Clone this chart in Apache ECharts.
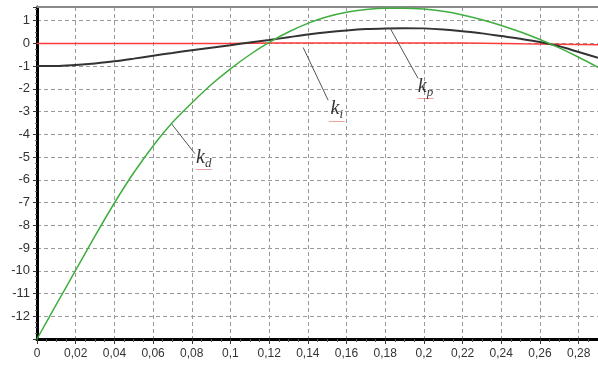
<!DOCTYPE html>
<html>
<head>
<meta charset="utf-8">
<script src="https://cdn.jsdelivr.net/npm/echarts@6/dist/echarts.min.js"></script>
<style>html,body{margin:0;padding:0;background:#fff}#c{width:598px;height:365px}</style>
</head>
<body>
<div id="c"></div>
<script>
var xs = [0,0.01,0.02,0.03,0.04,0.05,0.06,0.07,0.08,0.09,0.10,0.11,0.12,0.13,0.14,0.15,0.16,0.17,0.18,0.19,0.20,0.21,0.22,0.23,0.24,0.25,0.26,0.27,0.28,0.29];
var kd = [-13,-11.48,-9.97,-8.47,-7.02,-5.69,-4.51,-3.48,-2.62,-1.82,-1.12,-0.5,0.04,0.5,0.88,1.17,1.37,1.49,1.55,1.55,1.51,1.41,1.25,1.04,0.79,0.5,0.17,-0.2,-0.61,-1.05];
var kp = [-1.0,-1.0,-0.95,-0.88,-0.79,-0.67,-0.54,-0.42,-0.3,-0.19,-0.08,0.04,0.15,0.27,0.39,0.49,0.57,0.63,0.66,0.67,0.66,0.61,0.53,0.44,0.32,0.2,0.06,-0.13,-0.38,-0.63];
var ki = [0,0,0,0,0,0,0,0,0,0,0,0.01,0.02,0.02,0.02,0.02,0.02,0.02,0.02,0.02,0.02,0.02,0.02,0.01,0,-0.02,-0.03,-0.04,-0.05,-0.06];
var xTicks = ['0','0,02','0,04','0,06','0,08','0,1','0,12','0,14','0,16','0,18','0,2','0,22','0,24','0,26','0,28'];
// annotation labels: name, subscript, pointer start [x,y], pointer end [x,y], label position [x,y]
var annNames = ['k','k','k'];
var annSubs = ['d','i','p'];
var annFrom = [[0.0695,-3.53],[0.1376,-0.18],[0.1826,0.66]];
var annTo = [[0.0816,-4.85],[0.1505,-2.5],[0.197,-1.54]];
var annAt = [[0.0862,-5.1],[0.155,-2.95],[0.2008,-1.98]];

function pairs(a){ return xs.map(function(x,i){return [x,a[i]];}); }
var chart = echarts.init(document.getElementById('c'));
var fmtX = function(v){
  var k = Math.round(v/0.02);
  if (Math.abs(v/0.02 - k) > 1e-6) return '';
  return xTicks[k] !== undefined ? xTicks[k] : '';
};
var fmtY = function(v){
  if (Math.abs(v - Math.round(v)) > 1e-6 || v <= -13 || v > 1.01) return '';
  return String(Math.round(v));
};
var markLines = annFrom.map(function(f,i){ return [{coord:f},{coord:annTo[i]}]; });
chart.setOption({
  animation:false,
  backgroundColor:'#fff',
  grid:{left:37,right:0,top:7,bottom:26,containLabel:false},
  xAxis:[{
    type:'value',min:0,max:0.29,interval:0.02,
    axisLine:{onZero:false,lineStyle:{color:'#000',width:3}},
    axisTick:{show:true,length:5,inside:false,lineStyle:{color:'#333',width:1}},
    minorTick:{show:true,splitNumber:4,length:3,lineStyle:{color:'#555'}},
    axisLabel:{formatter:fmtX,color:'#333',fontFamily:'Liberation Sans',fontSize:12,margin:9,showMaxLabel:false},
    splitLine:{show:true,lineStyle:{color:'#9a9a9a',type:[4,3],width:1}}
  },{
    type:'value',position:'top',min:0,max:0.29,
    axisLine:{onZero:false,lineStyle:{color:'#8a8a8a',width:2}},
    axisTick:{show:false},axisLabel:{show:false},splitLine:{show:false}
  }],
  yAxis:{
    type:'value',min:-13,max:1.6,interval:1,
    axisLine:{onZero:false,lineStyle:{color:'#000',width:3}},
    axisTick:{show:true,length:4,lineStyle:{color:'#333'}},
    minorTick:{show:true,splitNumber:4,length:2,lineStyle:{color:'#666'}},
    axisLabel:{formatter:fmtY,color:'#333',fontFamily:'Liberation Sans',fontSize:13,margin:7},
    splitLine:{show:true,lineStyle:{color:'#9a9a9a',type:[4,3],width:1}}
  },
  series:[
    {type:'line',name:'ki',data:pairs(ki),showSymbol:false,lineStyle:{color:'#ff3b3b',width:1.5},z:3},
    {type:'line',name:'kp',data:pairs(kp),showSymbol:false,smooth:0.3,lineStyle:{color:'#333',width:2},z:4,
      markLine:{symbol:['none','none'],silent:true,label:{show:false},lineStyle:{color:'#555',width:1,type:'solid'},data:markLines}},
    {type:'line',name:'kd',data:pairs(kd),showSymbol:false,smooth:0.3,lineStyle:{color:'#3fae3f',width:1.5},z:5},
    {type:'scatter',data:annAt.map(function(p,i){return {value:p,name:annNames[i]};}),symbolSize:0,z:6,
      label:{show:true,position:'inside',formatter:function(p){return '{k|'+annNames[p.dataIndex]+'}{s|'+annSubs[p.dataIndex]+'}\n{w|﹏﹏}';},
        rich:{
          k:{fontFamily:'Liberation Serif',fontStyle:'italic',fontSize:20,color:'#000',verticalAlign:'bottom'},
          s:{fontFamily:'Liberation Serif',fontStyle:'italic',fontSize:13,color:'#000',verticalAlign:'bottom',padding:[0,0,-3,0]},
          w:{fontFamily:'Noto Sans CJK SC',fontSize:8,color:'#e03030',lineHeight:4,padding:[-6,0,0,0]}
        }}}
  ]
});
</script>
</body>
</html>
